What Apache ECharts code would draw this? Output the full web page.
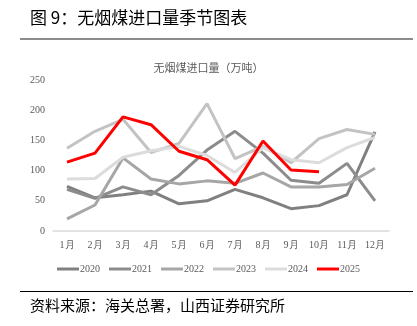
<!DOCTYPE html>
<html>
<head>
<meta charset="utf-8">
<script src="https://cdn.jsdelivr.net/npm/echarts@6/dist/echarts.min.js"></script>
<style>html,body{margin:0;padding:0;background:#fff;}#c{width:417px;height:326px;}</style>
</head>
<body>
<div id="c"></div>
<script>
var months = ['1月','2月','3月','4月','5月','6月','7月','8月','9月','10月','11月','12月'];
var years = ['2020','2021','2022','2023','2024','2025'];
var d2020 = [74, 55, 60, 66, 45, 50, 69, 55, 37, 42, 60, 164];
var d2021 = [69, 54, 73, 60, 92, 134, 165, 129, 84, 79, 112, 50];
var d2022 = [20, 43, 121, 86, 78, 83, 79, 96, 73, 73, 77, 104];
var d2023 = [137, 165, 185, 130, 145, 211, 120, 140, 113, 153, 168, 160];
var d2024 = [86, 87, 122, 133, 140, 125, 97, 138, 118, 113, 138, 155];
var d2025 = [114, 129, 189, 176, 132, 118, 76, 149, 101, 98];
var yTicks = [0, 50, 100, 150, 200, 250];

var colors = ['#808080', '#8c8c8c', '#a6a6a6', '#c3c3c3', '#dcdcdc', '#ff0000'];
var data = [d2020, d2021, d2022, d2023, d2024, d2025];
var serif = '"Liberation Serif", "DejaVu Serif", serif';
var cjk = '"Noto Sans CJK SC", sans-serif';

var chart = echarts.init(document.getElementById('c'));
chart.setOption({
  animation: false,
  color: colors,
  title: {
    text: '无烟煤进口量（万吨）',
    left: 'center', top: 57,
    textStyle: { fontFamily: cjk, fontSize: 11, fontWeight: 'normal', color: '#595959' }
  },
  legend: {
    bottom: 47, left: 'center',
    itemWidth: 22, itemHeight: 3, itemGap: 9,
    icon: 'rect',
    data: years,
    textStyle: { fontFamily: serif, fontSize: 10, color: '#595959', padding: [0, 0, 0, -4] }
  },
  grid: { left: 53, right: 28, top: 80, bottom: 95 },
  xAxis: {
    type: 'category', data: months, boundaryGap: true,
    axisLine: { lineStyle: { color: '#d9d9d9', width: 1.5 } },
    axisTick: { show: false },
    axisLabel: { fontFamily: serif, fontSize: 10, color: '#595959', margin: 9 }
  },
  yAxis: {
    type: 'value', min: yTicks[0], max: yTicks[yTicks.length - 1], interval: 50,
    axisLine: { show: false }, axisTick: { show: false },
    splitLine: { show: false },
    axisLabel: { fontFamily: serif, fontSize: 10, color: '#595959', margin: 8 }
  },
  series: years.map(function (y, i) {
    return {
      name: y, type: 'line', data: data[i], symbol: 'none',
      lineStyle: { width: 3, color: colors[i] },
      z: i === 5 ? 10 : 2 + i
    };
  }),
  graphic: [
    { type: 'text', left: 30, top: 9, style: { text: '图 9：无烟煤进口量季节图表', font: '17px "Noto Sans CJK SC", sans-serif', fill: '#000' } },
    { type: 'rect', shape: { x: 20, y: 38, width: 393, height: 2 }, style: { fill: '#8c8c8c' } },
    { type: 'rect', shape: { x: 20, y: 291, width: 393, height: 1 }, style: { fill: '#000' } },
    { type: 'text', left: 30, top: 298, style: { text: '资料来源：海关总署，山西证券研究所', font: '15px "Noto Sans CJK SC", sans-serif', fill: '#000' } }
  ]
});
</script>
</body>
</html>
